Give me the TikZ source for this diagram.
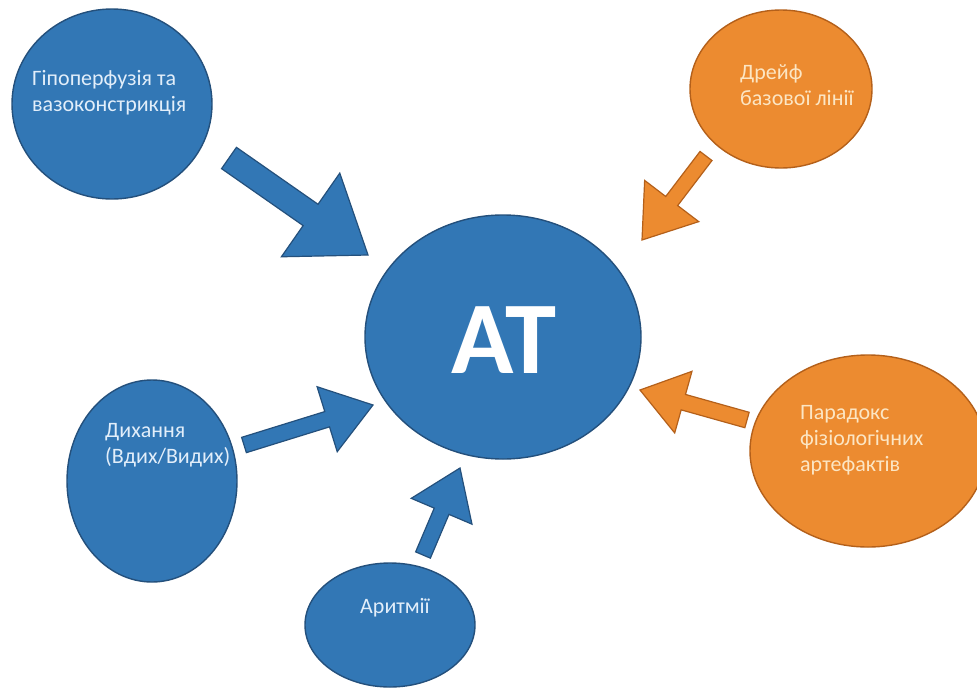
\documentclass[tikz,border=0pt]{standalone}
\usepackage{fontspec}
\setmainfont{Carlito}
\usetikzlibrary{shapes.geometric,calc}

\definecolor{atblue}{RGB}{50,119,181}
\definecolor{atblueline}{RGB}{36,80,124}
\definecolor{atbluetext}{RGB}{226,238,250}
\definecolor{atorange}{RGB}{236,139,48}
\definecolor{atorangeline}{RGB}{180,96,26}
\definecolor{atorangetext}{RGB}{252,230,196}

\begin{document}
\begin{tikzpicture}[x=1pt, y=-1pt,
    bluecause/.style={ellipse, draw=atblueline, fill=atblue, line width=1.4pt, inner sep=0pt},
    orangecause/.style={ellipse, draw=atorangeline, fill=atorange, line width=1.4pt, inner sep=0pt},
    causetext/.style={text=#1, align=left, anchor=west, inner sep=0pt, font=\fontsize{22}{26}\selectfont},
    % shaft half width, head half width, head length
    blockarrow/.style n args={3}{to path={
        ($(\tikztostart)!#1!90:(\tikztotarget)$)
        -- ($($(\tikztotarget)!#3!(\tikztostart)$)!#1!90:(\tikztotarget)$)
        -- ($($(\tikztotarget)!#3!(\tikztostart)$)!#2!90:(\tikztotarget)$)
        -- (\tikztotarget)
        -- ($($(\tikztotarget)!#3!(\tikztostart)$)!#2!-90:(\tikztotarget)$)
        -- ($($(\tikztotarget)!#3!(\tikztostart)$)!#1!-90:(\tikztotarget)$)
        -- ($(\tikztostart)!#1!-90:(\tikztotarget)$) -- cycle}},
    bluearrow/.style={draw=atblueline, fill=atblue, line width=1.2pt, line join=miter},
    orangearrow/.style={draw=atorangeline, fill=atorange, line width=1.2pt, line join=miter}]

    \path[use as bounding box, fill=white] (0,0) rectangle (977,691);

    % Causes
    \node[bluecause, minimum width=200pt, minimum height=190pt] (hypo) at (112,104) {};
    \node[bluecause, minimum width=276pt, minimum height=244pt] (at) at (503,337) {};
    \node[orangecause, minimum width=182pt, minimum height=158pt] (drift) at (781,89) {};
    \node[bluecause, minimum width=170pt, minimum height=202pt] (breath) at (152,481) {};
    \node[bluecause, minimum width=170pt, minimum height=124pt] (arrhythm) at (390,625) {};
    \node[orangecause, minimum width=236pt, minimum height=192pt] (paradox) at (868,451) {};

    % Labels
    \node[causetext=atbluetext] (hypo-text) at (32,93) {Гіпоперфузія та\\вазоконстрикція};
    \node[text=white, font=\fontsize{103}{103}\selectfont\bfseries] (at-text) at (504,340) {AT};
    \node[causetext=atorangetext] (drift-text) at (740,85) {Дрейф\\базової лінії};
    \node[causetext=atbluetext] (breath-text) at (105,445) {Дихання\\(Вдих/Видих)};
    \node[causetext=atbluetext, anchor=center] (arrhythm-text) at (395,608) {Аритмії};
    \node[causetext=atorangetext] (paradox-text) at (800,440) {Парадокс\\фізіологічних\\артефактів};

    % Arrow ends
    \coordinate (hypo-tail) at (229,158);
    \coordinate (hypo-tip) at (368,255);
    \coordinate (drift-tail) at (706,156);
    \coordinate (drift-tip) at (642,240);
    \coordinate (breath-tail) at (244,445);
    \coordinate (breath-tip) at (373,405);
    \coordinate (arrhythm-tail) at (423,555);
    \coordinate (arrhythm-tip) at (460,468);
    \coordinate (paradox-tail) at (747,420);
    \coordinate (paradox-tip) at (640,390);

    % Arrows
    \draw[bluearrow] (hypo-tail) to[blockarrow={13pt}{51pt}{70pt}] (hypo-tip);
    \draw[orangearrow] (drift-tail) to[blockarrow={7.5pt}{34pt}{49pt}] (drift-tip);
    \draw[bluearrow] (breath-tail) to[blockarrow={8pt}{34pt}{48pt}] (breath-tip);
    \draw[bluearrow] (arrhythm-tail) to[blockarrow={8pt}{33pt}{47pt}] (arrhythm-tip);
    \draw[orangearrow] (paradox-tail) to[blockarrow={8pt}{32pt}{45pt}] (paradox-tip);
\end{tikzpicture}
\end{document}
